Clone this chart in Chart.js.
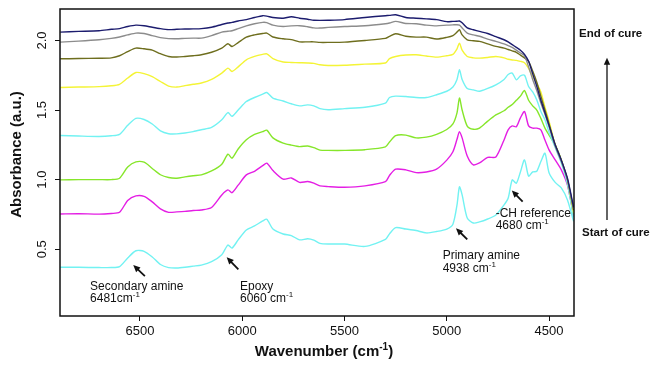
<!DOCTYPE html>
<html>
<head>
<meta charset="utf-8">
<script src="https://cdn.jsdelivr.net/npm/chart.js@4.4.1/dist/chart.umd.min.js"></script>
<style>
body{margin:0;background:#fff;}
#wrap{width:651px;height:369px;}
</style>
</head>
<body>
<div id="wrap"><canvas id="chart" width="651" height="369"></canvas></div>
<script>
// wavenumber grid (cm-1), shared by every spectrum
const wavenumber = [6890,6800,6700,6640,6600,6560,6520,6480,6440,6400,6360,6320,6280,6240,6200,6150,6100,6070,6050,6020,
  5980,5940,5900,5880,5850,5800,5760,5720,5680,5650,5620,5580,5500,5400,5300,5280,5250,5200,5150,5100,
  5050,5000,4970,4950,4938,4925,4900,4870,4840,4800,4760,4720,4700,4680,4660,4640,4620,4600,4580,4560,
  4540,4520,4500,4470,4440,4410,4380];

// spectra, start of cure -> end of cure
const cureStart = [0.37,0.37,0.368,0.368,0.375,0.437,0.489,0.485,0.444,0.39,0.368,0.365,0.37,0.378,0.386,0.41,0.46,0.53,0.508,0.567,
  0.638,0.667,0.703,0.715,0.645,0.609,0.598,0.567,0.575,0.565,0.542,0.537,0.537,0.52,0.57,0.61,0.655,0.645,0.634,0.617,
  0.627,0.645,0.68,0.818,0.948,0.89,0.724,0.688,0.696,0.717,0.746,0.818,0.866,0.998,0.974,1.055,1.142,1.025,1.055,1.06,
  1.13,1.19,1.05,0.98,0.94,0.854,0.70];
const cure2 = [0.753,0.755,0.752,0.757,0.765,0.85,0.883,0.88,0.84,0.79,0.765,0.768,0.772,0.778,0.782,0.80,0.89,0.926,0.906,0.96,
  1.034,1.06,1.10,1.118,1.065,1.003,1.012,0.98,0.986,0.975,0.955,0.95,0.945,0.955,0.985,1.03,1.075,1.07,1.05,1.055,
  1.075,1.14,1.20,1.29,1.345,1.30,1.17,1.106,1.12,1.16,1.163,1.285,1.358,1.386,1.38,1.444,1.489,1.386,1.37,1.37,
  1.358,1.285,1.214,1.142,1.07,0.96,0.74];
const cure3 = [0.998,1.0,1.0,1.0,1.01,1.09,1.127,1.125,1.08,1.035,1.015,1.01,1.02,1.028,1.034,1.062,1.11,1.183,1.154,1.22,
  1.286,1.325,1.345,1.355,1.30,1.262,1.248,1.237,1.242,1.23,1.212,1.21,1.21,1.215,1.235,1.27,1.316,1.32,1.30,1.305,
  1.325,1.36,1.40,1.48,1.586,1.50,1.385,1.362,1.37,1.42,1.465,1.495,1.52,1.54,1.57,1.60,1.64,1.57,1.53,1.50,
  1.44,1.37,1.32,1.25,1.14,0.98,0.75];
const cure4 = [1.317,1.313,1.31,1.315,1.325,1.39,1.44,1.432,1.40,1.35,1.33,1.329,1.335,1.345,1.358,1.375,1.43,1.482,1.455,1.50,
  1.561,1.59,1.615,1.626,1.586,1.565,1.545,1.53,1.537,1.53,1.51,1.502,1.51,1.52,1.55,1.59,1.60,1.597,1.59,1.59,
  1.61,1.635,1.665,1.72,1.789,1.72,1.655,1.645,1.635,1.655,1.681,1.72,1.755,1.765,1.717,1.745,1.75,1.669,1.63,1.573,
  1.49,1.43,1.34,1.23,1.12,0.97,0.73];
const cure5 = [1.662,1.665,1.668,1.674,1.685,1.73,1.77,1.762,1.74,1.705,1.672,1.665,1.675,1.685,1.694,1.72,1.765,1.801,1.777,1.81,
  1.861,1.885,1.90,1.904,1.87,1.845,1.842,1.84,1.838,1.835,1.825,1.82,1.822,1.83,1.838,1.87,1.885,1.895,1.897,1.888,
  1.88,1.89,1.90,1.94,1.981,1.93,1.885,1.875,1.873,1.878,1.885,1.875,1.865,1.86,1.857,1.85,1.84,1.80,1.74,1.69,
  1.63,1.52,1.42,1.25,1.14,1.0,0.76];
const cure6 = [1.868,1.87,1.872,1.875,1.89,1.92,1.945,1.94,1.93,1.905,1.885,1.881,1.885,1.89,1.897,1.915,1.945,1.976,1.957,1.985,
  2.024,2.04,2.05,2.053,2.025,2.012,2.006,1.99,1.99,1.99,1.986,1.986,1.988,2.0,2.015,2.03,2.048,2.03,2.024,2.024,
  2.01,2.022,2.035,2.06,2.077,2.04,2.005,1.998,1.993,1.975,1.957,1.945,1.935,1.925,1.915,1.895,1.875,1.85,1.78,1.70,
  1.60,1.50,1.40,1.25,1.14,1.0,0.78];
const cure7 = [1.988,1.995,2.005,2.015,2.025,2.04,2.053,2.05,2.035,2.02,2.013,2.012,2.015,2.017,2.017,2.035,2.06,2.066,2.07,2.085,
  2.105,2.12,2.13,2.128,2.11,2.10,2.105,2.106,2.098,2.09,2.089,2.094,2.10,2.106,2.12,2.125,2.137,2.122,2.12,2.11,
  2.105,2.11,2.112,2.113,2.11,2.09,2.053,2.04,2.03,2.01,1.993,1.975,1.963,1.95,1.93,1.91,1.89,1.81,1.72,1.64,
  1.55,1.47,1.38,1.24,1.13,1.0,0.79];
const cureEnd = [2.06,2.065,2.07,2.08,2.085,2.10,2.11,2.106,2.095,2.085,2.078,2.08,2.082,2.083,2.085,2.095,2.115,2.125,2.13,2.14,
  2.15,2.165,2.178,2.175,2.165,2.16,2.17,2.16,2.152,2.145,2.144,2.145,2.15,2.165,2.178,2.18,2.185,2.165,2.16,2.155,
  2.15,2.135,2.137,2.138,2.14,2.127,2.09,2.077,2.065,2.05,2.027,2.005,1.99,1.97,1.95,1.93,1.90,1.85,1.76,1.67,
  1.57,1.48,1.39,1.25,1.14,1.01,0.80];

const xTicks = [6500,6000,5500,5000,4500];
const yTicks = [0.5,1.0,1.5,2.0];

// drawn last = on top, so end of cure comes first
const spectra = [cureEnd, cure7, cure6, cure5, cure4, cure3, cure2, cureStart];
const lineColors = ['#1c1c6e','#8c8c8c','#6e6e1e','#f4f436','#72f2f2','#86e62a','#e41ee4','#72f2f2'];

const FONT = '"Liberation Sans", Arial, sans-serif';

// peak labels: [wavenumber, absorbance] anchors
const notes = [
  {l1:'Secondary amine', l2:'6481cm', x:6744, y1:0.207, y2:0.118, head:[6533,0.386], tail:[6476,0.307]},
  {l1:'Epoxy', l2:'6060 cm', x:6011, y1:0.207, y2:0.118, head:[6076,0.442], tail:[6019,0.355]},
  {l1:'Primary amine', l2:'4938 cm', x:5020, y1:0.432, y2:0.338, head:[4955,0.65], tail:[4900,0.571]},
  {l1:'-CH reference', l2:'4680 cm', x:4761, y1:0.732, y2:0.642, head:[4682,0.921], tail:[4629,0.842]}
];

function arrow(ctx, x1, y1, x2, y2, w){
  const a = Math.atan2(y2 - y1, x2 - x1);
  const len = 7, half = 3.2;
  ctx.lineWidth = w;
  ctx.beginPath();
  ctx.moveTo(x1, y1);
  ctx.lineTo(x2 - Math.cos(a) * len * 0.8, y2 - Math.sin(a) * len * 0.8);
  ctx.stroke();
  ctx.beginPath();
  ctx.moveTo(x2, y2);
  ctx.lineTo(x2 - Math.cos(a) * len - Math.sin(a) * half, y2 - Math.sin(a) * len + Math.cos(a) * half);
  ctx.lineTo(x2 - Math.cos(a) * len + Math.sin(a) * half, y2 - Math.sin(a) * len - Math.cos(a) * half);
  ctx.closePath();
  ctx.fill();
}

function supText(ctx, txt, x, y, size, bold){
  ctx.font = (bold ? 'bold ' : '') + size + 'px ' + FONT;
  ctx.fillText(txt, x, y);
  let w = ctx.measureText(txt).width;
  ctx.font = (bold ? 'bold ' : '') + Math.round(size * 0.68) + 'px ' + FONT;
  ctx.fillText('-1', x + w, y - size * 0.42);
  return w + ctx.measureText('-1').width;
}

const extras = {
  id: 'extras',
  afterDraw(chart){
    const ctx = chart.ctx;
    const a = chart.chartArea;
    const xs = chart.scales.x, ys = chart.scales.y;
    ctx.save();
    ctx.fillStyle = '#111';
    ctx.strokeStyle = '#111';

    // frame
    ctx.lineWidth = 1.5;
    ctx.strokeRect(a.left, a.top, a.right - a.left, a.bottom - a.top);

    // y tick labels, rotated
    ctx.font = '13px ' + FONT;
    ctx.textAlign = 'center';
    ctx.textBaseline = 'middle';
    ys.ticks.forEach(t => {
      ctx.save();
      ctx.translate(a.left - 18, ys.getPixelForValue(t.value));
      ctx.rotate(-Math.PI / 2);
      ctx.fillText(t.value.toFixed(1), 0, 0);
      ctx.restore();
    });

    // y title
    ctx.save();
    ctx.translate(17, (a.top + a.bottom) / 2 - 8);
    ctx.rotate(-Math.PI / 2);
    ctx.font = 'bold 15px ' + FONT;
    ctx.fillText('Absorbance (a.u.)', 0, 0);
    ctx.restore();

    // x title with superscript
    ctx.textAlign = 'left';
    ctx.textBaseline = 'alphabetic';
    ctx.font = 'bold 15px ' + FONT;
    const base = 'Wavenumber (cm';
    const wBase = ctx.measureText(base).width;
    ctx.font = 'bold 10px ' + FONT;
    const wSup = ctx.measureText('-1').width;
    ctx.font = 'bold 15px ' + FONT;
    const wEnd = ctx.measureText(')').width;
    let tx = 324 - (wBase + wSup + wEnd) / 2;
    supText(ctx, base, tx, 356, 15, true);
    ctx.font = 'bold 15px ' + FONT;
    ctx.fillText(')', tx + wBase + wSup, 356);

    // peak notes
    notes.forEach(n => {
      const px = xs.getPixelForValue(n.x);
      ctx.font = '12px ' + FONT;
      ctx.fillText(n.l1, px, ys.getPixelForValue(n.y1));
      supText(ctx, n.l2, px, ys.getPixelForValue(n.y2), 12, false);
      arrow(ctx, xs.getPixelForValue(n.tail[0]), ys.getPixelForValue(n.tail[1]),
        xs.getPixelForValue(n.head[0]), ys.getPixelForValue(n.head[1]), 1.8);
    });

    // cure direction
    ctx.font = 'bold 11.5px ' + FONT;
    ctx.textBaseline = 'middle';
    ctx.fillText('End of cure', a.right + 5, ys.getPixelForValue(2.048));
    ctx.fillText('Start of cure', a.right + 8, ys.getPixelForValue(0.617));
    arrow(ctx, a.right + 33, ys.getPixelForValue(0.71), a.right + 33, ys.getPixelForValue(1.876), 1.3);

    ctx.restore();
  }
};

new Chart(document.getElementById('chart'), {
  type: 'line',
  data: {
    datasets: spectra.map((vals, i) => ({
      data: wavenumber.map((w, j) => ({x: w, y: vals[j]})),
      borderColor: lineColors[i],
      borderWidth: 1.4,
      pointRadius: 0,
      tension: 0.25,
      fill: false
    }))
  },
  options: {
    responsive: false,
    animation: false,
    devicePixelRatio: 1,
    layout: {padding: {top: 9, right: 77, left: 0, bottom: 0}},
    plugins: {legend: {display: false}, tooltip: {enabled: false}},
    scales: {
      x: {
        type: 'linear',
        reverse: true,
        min: 4378,
        max: 6891,
        afterBuildTicks: s => { s.ticks = xTicks.map(v => ({value: v})); },
        afterFit: s => { s.height = 53; },
        border: {display: false},
        grid: {drawOnChartArea: false, drawTicks: true, tickLength: 5, tickColor: '#111', tickWidth: 1},
        ticks: {color: '#111', font: {family: FONT, size: 13}, maxRotation: 0, padding: 3, callback: v => String(v)}
      },
      y: {
        min: 0.02,
        max: 2.226,
        afterBuildTicks: s => { s.ticks = yTicks.map(v => ({value: v})); },
        afterFit: s => { s.width = 60; },
        border: {display: false},
        grid: {drawOnChartArea: false, drawTicks: true, tickLength: 5, tickColor: '#111', tickWidth: 1},
        ticks: {display: false}
      }
    }
  },
  plugins: [extras]
});
</script>
</body>
</html>
